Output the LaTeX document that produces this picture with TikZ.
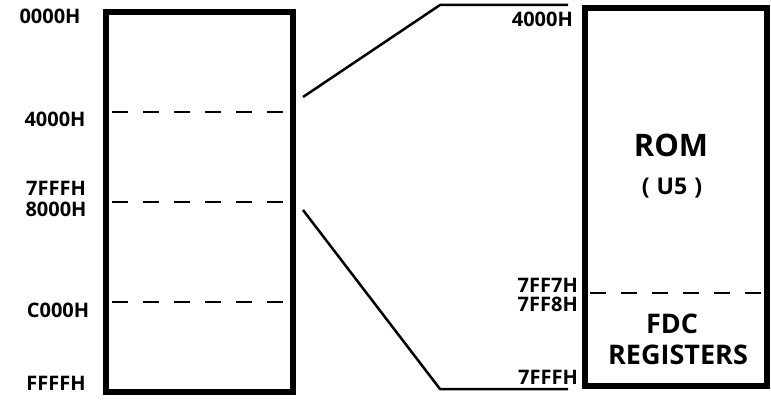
\documentclass[tikz,border=0pt]{standalone}
\usepackage{fontspec}
\setmainfont{Open Sans}
\begin{document}
\begin{tikzpicture}[x=1pt,y=-1pt,
  box/.style={draw, line width=6pt, inner sep=0pt},
  sepline/.style={line width=2pt, dash pattern=on 16pt off 15pt},
  link/.style={line width=2.5pt, line join=round},
  addr/.style={font=\bfseries\fontsize{20}{20}\selectfont, inner sep=0pt},
  title/.style={font=\bfseries\fontsize{31}{31}\selectfont, inner sep=0pt},
  sub/.style={font=\bfseries\fontsize{23}{23}\selectfont, inner sep=0pt},
  reg/.style={font=\bfseries\fontsize{27}{27}\selectfont, inner sep=0pt}]
\useasboundingbox (0,0) rectangle (771,404);
% memory map box
\node[box, minimum width=187pt, minimum height=380pt] (mem) at (199.5,202) {};
% ROM box
\node[box, minimum width=182.5pt, minimum height=378pt] (rom) at (675.75,197) {};
% dashed separators (left)
\coordinate (s1a) at (112,112); \coordinate (s1b) at (290,112);
\coordinate (s2a) at (112,202); \coordinate (s2b) at (290,202);
\coordinate (s3a) at (112,302); \coordinate (s3b) at (290,302);
\draw[sepline] (s1a) -- (s1b);
\draw[sepline] (s2a) -- (s2b);
\draw[sepline] (s3a) -- (s3b);
% dashed separator (right)
\coordinate (s4a) at (590,293); \coordinate (s4b) at (764,293);
\draw[sepline] (s4a) -- (s4b);
% zoom connectors
\coordinate (tl) at (303,97); \coordinate (tm) at (440,5); \coordinate (te) at (568,5);
\coordinate (bl) at (303,210); \coordinate (bm) at (440,389); \coordinate (be) at (568,389);
\draw[link] (tl) -- (tm) -- (te);
\draw[link] (bl) -- (bm) -- (be);
% left labels
\node[addr] (l0) at (50,16) {0000H};
\node[addr] (l1) at (55,119) {4000H};
\node[addr] (l2) at (56,188) {7FFFH};
\node[addr] (l3) at (56,209) {8000H};
\node[addr] (l4) at (58,310) {C000H};
\node[addr] (l5) at (56,383) {FFFFH};
% right labels
\node[addr, anchor=east] (r0) at (573,19) {4000H};
\node[addr, anchor=east] (r1) at (578,285) {7FF7H};
\node[addr, anchor=east] (r2) at (578,304) {7FF8H};
\node[addr, anchor=east] (r3) at (578,377) {7FFFH};
% box texts
\node[title] (romt) at (671,145) {ROM};
\node[sub, anchor=base] (u5) at (672,194) {(\hspace{7pt}U5\hspace{7pt})};
\node[reg] (fdc) at (672,324) {FDC};
\node[reg] (regs) at (678,355) {REGISTERS};
\end{tikzpicture}
\end{document}
